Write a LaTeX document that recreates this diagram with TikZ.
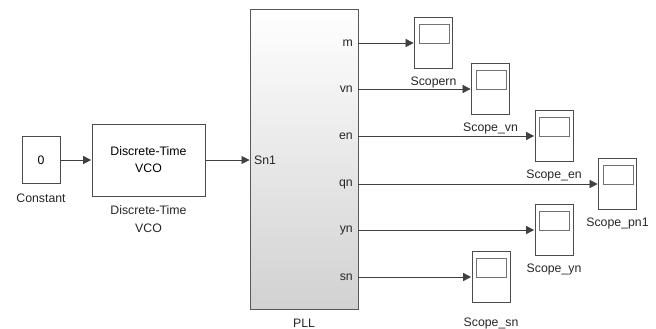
\documentclass[tikz,border=0pt]{standalone}
\usepackage{fontspec}
\setmainfont{Liberation Sans}
\usetikzlibrary{arrows.meta}
\begin{document}
\begin{tikzpicture}[x=1pt,y=-1pt,
  every node/.style={font=\fontsize{12.3}{14}\selectfont, inner sep=0pt},
  blk/.style={draw=black!70, line width=0.7pt, fill=white},
  scopebox/.style={draw=black!70, line width=0.7pt, fill=white, minimum width=38pt, minimum height=51pt},
  arr/.style={draw=black!75, line width=0.6pt, -{Triangle[length=8pt,width=8pt]}, shorten >=0.5pt},
  lbl/.style={align=center, text=black!85},
  port/.style={anchor=east, text=black!85}]
\useasboundingbox (0,0) rectangle (656,329);

% Constant
\node[blk, minimum width=38pt, minimum height=47pt] (const) at (41,160) {0};
\node[lbl] (constlbl) at (41,198) {Constant};

% VCO
\node[blk, minimum width=113pt, minimum height=72pt, align=center] (vco) at (148.5,160) {Discrete-Time\\[3pt]VCO};
\node[lbl] (vcolbl) at (148.5,219) {Discrete-Time\\[4pt]VCO};

% PLL
\node[draw=black!65, line width=0.7pt, top color=white, bottom color=black!18, minimum width=108pt, minimum height=300pt] (pll) at (304,159) {};
\node[lbl] (plllbl) at (304,323) {PLL};

% ports
\coordinate (pin) at (250,160);
\coordinate (pm) at (358,43);
\coordinate (pvn) at (358,89);
\coordinate (pen) at (358,136);
\coordinate (pqn) at (358,184);
\coordinate (pyn) at (358,230);
\coordinate (psn) at (358,277);
\node[anchor=west, text=black!85] (lsn1) at (254,160) {Sn1};
\node[port] (lm) at (353,43) {m};
\node[port] (lvn) at (353,89) {vn};
\node[port] (len) at (353,136) {en};
\node[port] (lqn) at (353,184) {qn};
\node[port] (lyn) at (353,230) {yn};
\node[port] (lsn) at (353,277) {sn};

% scopes
\node[scopebox] (s1) at (433.5,43) {};
\node[scopebox] (s2) at (490.5,89) {};
\node[scopebox] (s3) at (554,136) {};
\node[scopebox] (s4) at (617.5,184) {};
\node[scopebox] (s5) at (554,230) {};
\node[scopebox] (s6) at (491,277) {};
\foreach \s in {s1,s2,s3,s4,s5,s6}{
  \draw[black!55, line width=0.6pt] ([xshift=5pt,yshift=-7pt]\s.north west) rectangle ([xshift=-4pt,yshift=-26pt]\s.north east);
}
\node[lbl] (l1) at (433.5,82) {Scopern};
\node[lbl] (l2) at (490.5,128) {Scope\_vn};
\node[lbl] (l3) at (554,175) {Scope\_en};
\node[lbl] (l4) at (617.5,223) {Scope\_pn1};
\node[lbl] (l5) at (554,269) {Scope\_yn};
\node[lbl] (l6) at (491,323) {Scope\_sn};

% connectors
\draw[arr] (const.east) -- (vco.west);
\draw[arr] (vco.east) -- (pin);
\draw[arr] (pm) -- (s1.west);
\draw[arr] (pvn) -- (s2.west);
\draw[arr] (pen) -- (s3.west);
\draw[arr] (pqn) -- (s4.west);
\draw[arr] (pyn) -- (s5.west);
\draw[arr] (psn) -- (s6.west);
\end{tikzpicture}
\end{document}
